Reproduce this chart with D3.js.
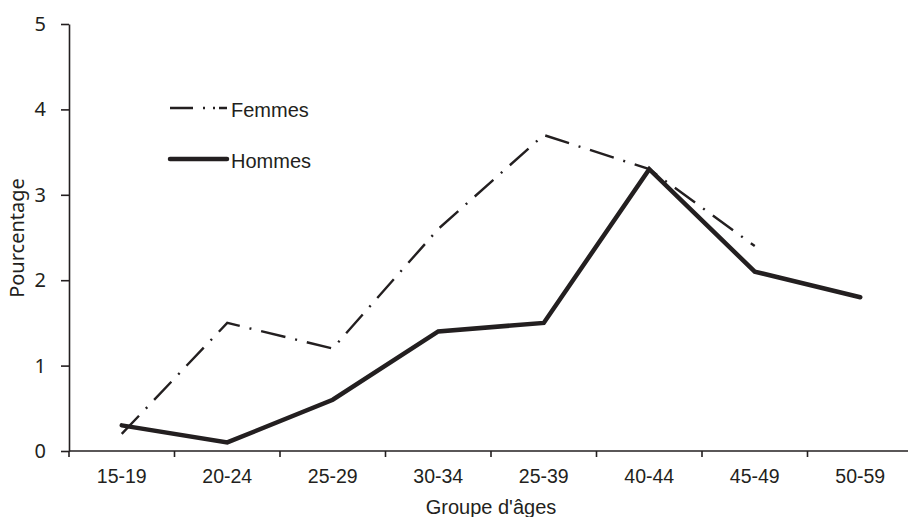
<!DOCTYPE html>
<html>
<head>
<meta charset="utf-8">
<script src="https://cdn.jsdelivr.net/npm/d3@7"></script>
<style>
  body { margin: 0; background: #fff; }
  svg { display: block; }
  .axis path, .axis line { stroke: #231f20; stroke-width: 1.6; }
  .x.axis text { font-family: "Liberation Sans", Arial, sans-serif; font-size: 19.5px; fill: #231f20; }
  .y.axis text { font-family: "Noto Sans", "Open Sans", sans-serif; font-size: 20px; fill: #231f20; }
  .label { font-family: "Liberation Sans", Arial, sans-serif; font-size: 20px; fill: #231f20; }
</style>
</head>
<body>
<div id="main"></div>
<script>
// Sizes
var svgWidth = 908;
var svgHeight = 517;
var margin = {t: 24, r: -5, b: 66, l: 69};

// Data
var ageGroups = ['15-19', '20-24', '25-29', '30-34', '25-39', '40-44', '45-49', '50-59'];
var femmes = [0.2, 1.5, 1.2, 2.6, 3.7, 3.3, 2.4, null];
var hommes = [0.3, 0.1, 0.6, 1.4, 1.5, 3.3, 2.1, 1.8];
var yTicks = [0, 1, 2, 3, 4, 5];

var ink = '#231f20';
var femmesDash = '25,10,2,10';

var svg = d3.select('#main')
  .append('svg')
  .attr('width', svgWidth)
  .attr('height', svgHeight);

var xScale = d3.scaleBand()
  .domain(ageGroups)
  .range([margin.l, svgWidth - margin.r]);

var yScale = d3.scaleLinear()
  .domain([0, 5])
  .range([451, margin.t]);

// x-axis, ticks sit between the categories
var xAxisG = svg.append('g')
  .attr('class', 'x axis')
  .attr('transform', 'translate(0,' + yScale(0) + ')')
  .call(d3.axisBottom(xScale).tickSize(0).tickPadding(18));
xAxisG.select('.domain').attr('d', 'M' + margin.l + ',0H' + (svgWidth + 10));

// little tick marks on the band edges
xAxisG.selectAll('.edge')
  .data(ageGroups)
  .enter()
  .append('line')
  .attr('class', 'edge')
  .attr('x1', function(d) { return xScale(d); })
  .attr('x2', function(d) { return xScale(d); })
  .attr('y1', 0)
  .attr('y2', 6);

// y-axis
svg.append('g')
  .attr('class', 'y axis')
  .attr('transform', 'translate(' + margin.l + ',0)')
  .call(d3.axisLeft(yScale).tickValues(yTicks).tickFormat(d3.format('d'))
    .tickSize(8).tickPadding(15).tickSizeOuter(0));

// axis titles
svg.append('text')
  .attr('class', 'label')
  .attr('text-anchor', 'middle')
  .attr('x', 491)
  .attr('y', 514)
  .text("Groupe d'âges");

svg.append('text')
  .attr('class', 'label')
  .attr('text-anchor', 'middle')
  .style('font-family', '"Noto Sans", sans-serif')
  .attr('transform', 'translate(24,238) rotate(-90)')
  .text('Pourcentage');

// lines
var line = d3.line()
  .defined(function(d) { return d !== null; })
  .x(function(d, i) { return xScale(ageGroups[i]) + xScale.bandwidth() / 2; })
  .y(function(d) { return yScale(d); });

svg.append('path')
  .datum(femmes)
  .attr('d', line)
  .attr('fill', 'none')
  .attr('stroke', ink)
  .attr('stroke-width', 2.4)
  .attr('stroke-dasharray', femmesDash);

svg.append('path')
  .datum(hommes)
  .attr('d', line)
  .attr('fill', 'none')
  .attr('stroke', ink)
  .attr('stroke-width', 4.5)
  .attr('stroke-linecap', 'round')
  .attr('stroke-linejoin', 'miter');

// legend
var legend = [
  {name: 'Femmes', y: 108, width: 2.4, dash: '23,10,2,8,2,4,8,20'},
  {name: 'Hommes', y: 159, width: 4.5, dash: null}
];

var legendG = svg.selectAll('.legend')
  .data(legend)
  .enter()
  .append('g')
  .attr('class', 'legend');

legendG.append('line')
  .attr('x1', 170)
  .attr('x2', 227)
  .attr('y1', function(d) { return d.y; })
  .attr('y2', function(d) { return d.y; })
  .attr('stroke', ink)
  .attr('stroke-width', function(d) { return d.width; })
  .attr('stroke-linecap', function(d) { return d.dash ? 'butt' : 'round'; })
  .attr('stroke-dasharray', function(d) { return d.dash; });

legendG.append('text')
  .attr('class', 'label')
  .attr('x', 231)
  .attr('y', function(d) { return d.y + 9; })
  .text(function(d) { return d.name; });
</script>
</body>
</html>
